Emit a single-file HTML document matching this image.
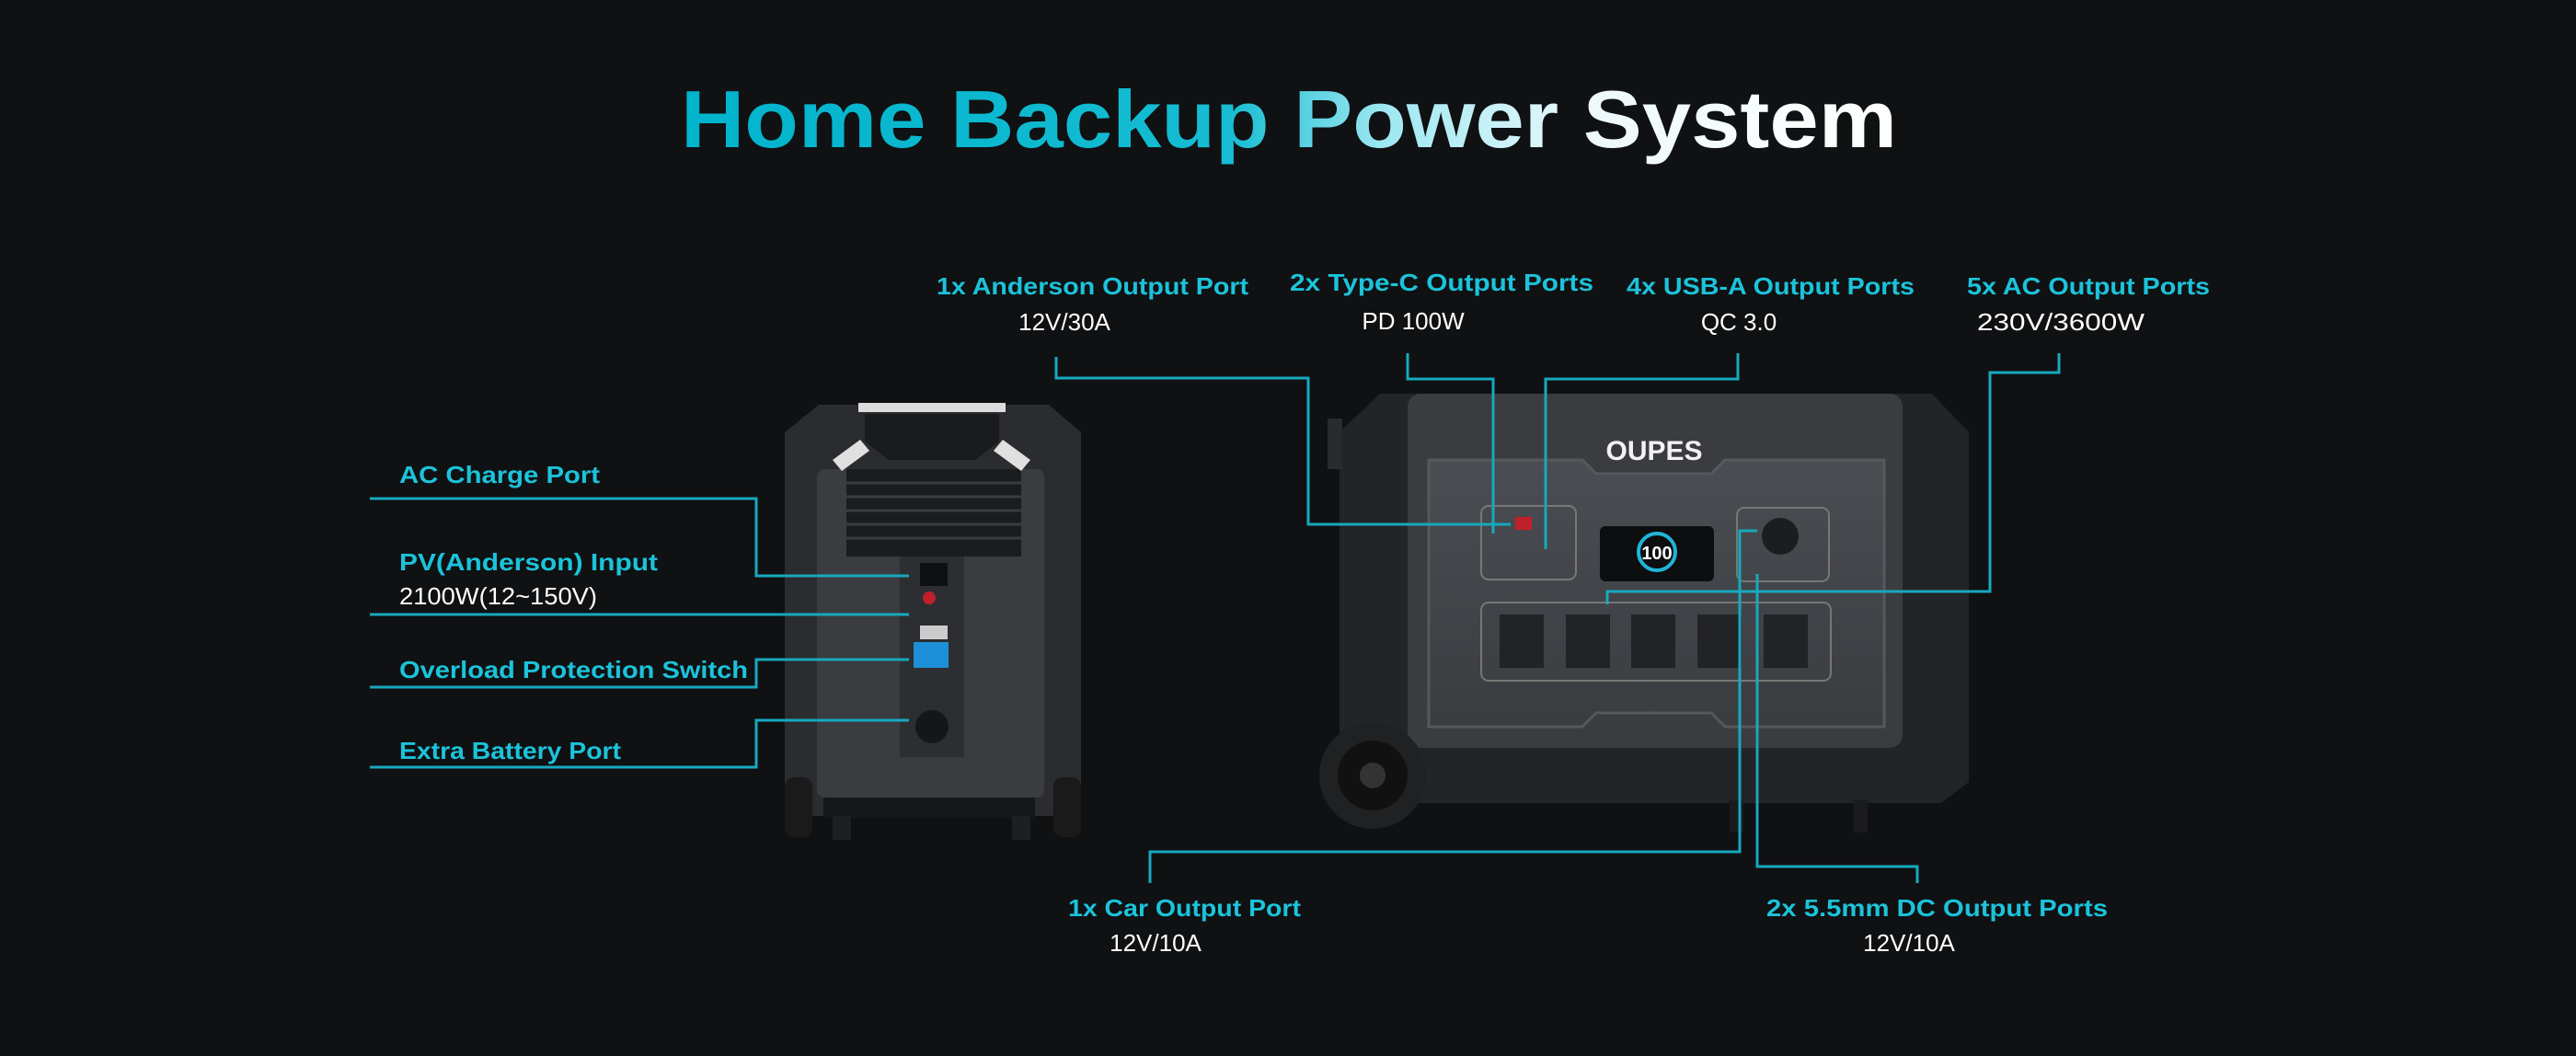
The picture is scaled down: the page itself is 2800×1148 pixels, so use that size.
<!DOCTYPE html>
<html><head><meta charset="utf-8"><style>
html,body{margin:0;padding:0;background:#0f1113;}
svg{display:block}
text{font-family:"Liberation Sans",sans-serif;}
</style></head><body>
<svg width="2800" height="1148" viewBox="0 0 2800 1148" xmlns="http://www.w3.org/2000/svg">
<defs>
<linearGradient id="tg" x1="740" y1="0" x2="2062" y2="0" gradientUnits="userSpaceOnUse">
<stop offset="0" stop-color="#00b4cc"/><stop offset="0.45" stop-color="#16bcd2"/><stop offset="0.58" stop-color="#9ee8f2"/><stop offset="0.75" stop-color="#eef9fc"/><stop offset="1" stop-color="#ffffff"/>
</linearGradient>
<linearGradient id="body" x1="0" y1="0" x2="0" y2="1"><stop offset="0" stop-color="#3a3d41"/><stop offset="1" stop-color="#1c1d1f"/></linearGradient>
<linearGradient id="face" x1="0" y1="0" x2="0" y2="1"><stop offset="0" stop-color="#4a4d52"/><stop offset="1" stop-color="#3a3c40"/></linearGradient>
</defs>
<rect width="2800" height="1148" fill="#0f1113"/>
<text x="740" y="160" font-size="88" font-weight="bold" fill="url(#tg)" textLength="1322" lengthAdjust="spacingAndGlyphs">Home Backup Power System</text>

<!-- left device -->
<g>
<path d="M853 470 L890 440 L1140 440 L1175 470 L1175 887 L853 887 Z" fill="#2a2c2f"/>
<rect x="933" y="438" width="160" height="10" fill="#dcdcdc"/>
<path d="M940 450 L1086 450 L1086 480 L1060 500 L966 500 L940 480 Z" fill="#1a1b1d"/>
<rect x="888" y="510" width="247" height="357" rx="8" fill="#3a3c40"/>
<rect x="920" y="510" width="190" height="95" fill="#1b1c1e"/>
<g stroke="#3a3c40" stroke-width="3">
<line x1="920" y1="525" x2="1110" y2="525"/><line x1="920" y1="540" x2="1110" y2="540"/><line x1="920" y1="555" x2="1110" y2="555"/><line x1="920" y1="570" x2="1110" y2="570"/><line x1="920" y1="585" x2="1110" y2="585"/>
</g>
<path d="M905 500 L935 478 L945 490 L915 512 Z" fill="#e0e0e0"/>
<path d="M1120 500 L1090 478 L1080 490 L1110 512 Z" fill="#e0e0e0"/>
<rect x="978" y="605" width="70" height="218" fill="#2c2e31"/>
<rect x="1000" y="612" width="30" height="25" fill="#0f1011"/>
<circle cx="1010" cy="650" r="7" fill="#c0202a"/>
<rect x="1000" y="680" width="30" height="15" fill="#ccc"/>
<rect x="993" y="698" width="38" height="28" fill="#1d8fd8"/>
<circle cx="1013" cy="790" r="18" fill="#151617"/>
<rect x="853" y="845" width="30" height="65" rx="10" fill="#1a1a1a"/>
<rect x="1145" y="845" width="30" height="65" rx="10" fill="#1a1a1a"/>
<rect x="895" y="867" width="230" height="22" fill="#161718"/>
<rect x="905" y="887" width="20" height="26" fill="#1e1f21"/>
<rect x="1100" y="887" width="20" height="26" fill="#1e1f21"/>
</g>

<!-- right device -->
<g>
<path d="M1456 470 L1500 428 L2100 428 L2140 470 L2140 850 L2110 873 L1480 873 L1456 850 Z" fill="#232427"/>
<rect x="1443" y="455" width="16" height="55" fill="#2a2b2e"/>
<rect x="1530" y="428" width="538" height="385" rx="14" fill="#3a3c40"/>
<path d="M1553 500 L1720 500 L1735 515 L1860 515 L1875 500 L2048 500 L2048 790 L1875 790 L1860 775 L1735 775 L1720 790 L1553 790 Z" fill="url(#face)" stroke="#55585d" stroke-width="3"/>
<text x="1798" y="500" font-size="30" font-weight="bold" fill="#f2f2f2" text-anchor="middle">OUPES</text>
<rect x="1610" y="550" width="103" height="80" rx="8" fill="none" stroke="#777" stroke-width="2"/>
<rect x="1647" y="562" width="18" height="14" fill="#c0202a"/>
<rect x="1739" y="572" width="124" height="60" rx="6" fill="#0d0e10"/>
<circle cx="1801" cy="600" r="20" fill="none" stroke="#1fb5d8" stroke-width="4"/>
<text x="1801" y="608" font-size="20" font-weight="bold" fill="#fff" text-anchor="middle">100</text>
<rect x="1888" y="552" width="100" height="80" rx="8" fill="none" stroke="#777" stroke-width="2"/>
<circle cx="1935" cy="583" r="20" fill="#1c1d1f"/>
<rect x="1610" y="655" width="380" height="85" rx="8" fill="none" stroke="#777" stroke-width="2"/>
<g fill="#222326"><rect x="1630" y="668" width="48" height="58"/><rect x="1702" y="668" width="48" height="58"/><rect x="1773" y="668" width="48" height="58"/><rect x="1845" y="668" width="48" height="58"/><rect x="1917" y="668" width="48" height="58"/></g>
<rect x="1880" y="870" width="15" height="35" fill="#1a1b1d"/>
<rect x="2015" y="870" width="15" height="35" fill="#1a1b1d"/>
<circle cx="1492" cy="843" r="58" fill="#202122"/>
<circle cx="1492" cy="843" r="38" fill="#111"/>
<circle cx="1492" cy="843" r="14" fill="#333"/>
</g>

<!-- connectors -->
<g fill="none" stroke="#17a9be" stroke-width="3">
<polyline points="1148,388 1148,411 1422,411 1422,570 1642,570"/>
<polyline points="1530,384 1530,412 1623,412 1623,580"/>
<polyline points="1889,384 1889,412 1680,412 1680,597"/>
<polyline points="2238,384 2238,405 2163,405 2163,643 1747,643 1747,657"/>
<polyline points="1910,577 1891,577 1891,926 1250,926 1250,960"/>
<polyline points="1910,624 1910,942 2084,942 2084,960"/>
<polyline points="402,542 822,542 822,626 988,626"/>
<polyline points="402,668 988,668"/>
<polyline points="402,747 822,747 822,717 988,717"/>
<polyline points="402,834 822,834 822,783 988,783"/>
</g>

<!-- labels -->
<g font-size="26" font-weight="bold">
<text x="1018" y="320" fill="#1cc3da" textLength="339" lengthAdjust="spacingAndGlyphs">1x Anderson Output Port</text>
<text x="1157" y="359" fill="#fff" text-anchor="middle" font-weight="normal">12V/30A</text>
<text x="1402" y="316" fill="#1cc3da" textLength="330" lengthAdjust="spacingAndGlyphs">2x Type-C Output Ports</text>
<text x="1536" y="358" fill="#fff" text-anchor="middle" font-weight="normal">PD 100W</text>
<text x="1768" y="320" fill="#1cc3da" textLength="313" lengthAdjust="spacingAndGlyphs">4x USB-A Output Ports</text>
<text x="1890" y="359" fill="#fff" text-anchor="middle" font-weight="normal">QC 3.0</text>
<text x="2138" y="320" fill="#1cc3da" textLength="264" lengthAdjust="spacingAndGlyphs">5x AC Output Ports</text>
<text x="2149" y="359" fill="#fff" font-weight="normal" textLength="182" lengthAdjust="spacingAndGlyphs">230V/3600W</text>
<text x="434" y="525" fill="#1cc3da" textLength="218" lengthAdjust="spacingAndGlyphs">AC Charge Port</text>
<text x="434" y="620" fill="#1cc3da" textLength="281" lengthAdjust="spacingAndGlyphs">PV(Anderson) Input</text>
<text x="434" y="657" fill="#fff" font-weight="normal" textLength="215" lengthAdjust="spacingAndGlyphs">2100W(12~150V)</text>
<text x="434" y="737" fill="#1cc3da" textLength="379" lengthAdjust="spacingAndGlyphs">Overload Protection Switch</text>
<text x="434" y="825" fill="#1cc3da" textLength="241" lengthAdjust="spacingAndGlyphs">Extra Battery Port</text>
<text x="1161" y="996" fill="#1cc3da" textLength="253" lengthAdjust="spacingAndGlyphs">1x Car Output Port</text>
<text x="1256" y="1034" fill="#fff" text-anchor="middle" font-weight="normal">12V/10A</text>
<text x="1920" y="996" fill="#1cc3da" textLength="371" lengthAdjust="spacingAndGlyphs">2x 5.5mm DC Output Ports</text>
<text x="2075" y="1034" fill="#fff" text-anchor="middle" font-weight="normal">12V/10A</text>
</g>
</svg>
</body></html>
